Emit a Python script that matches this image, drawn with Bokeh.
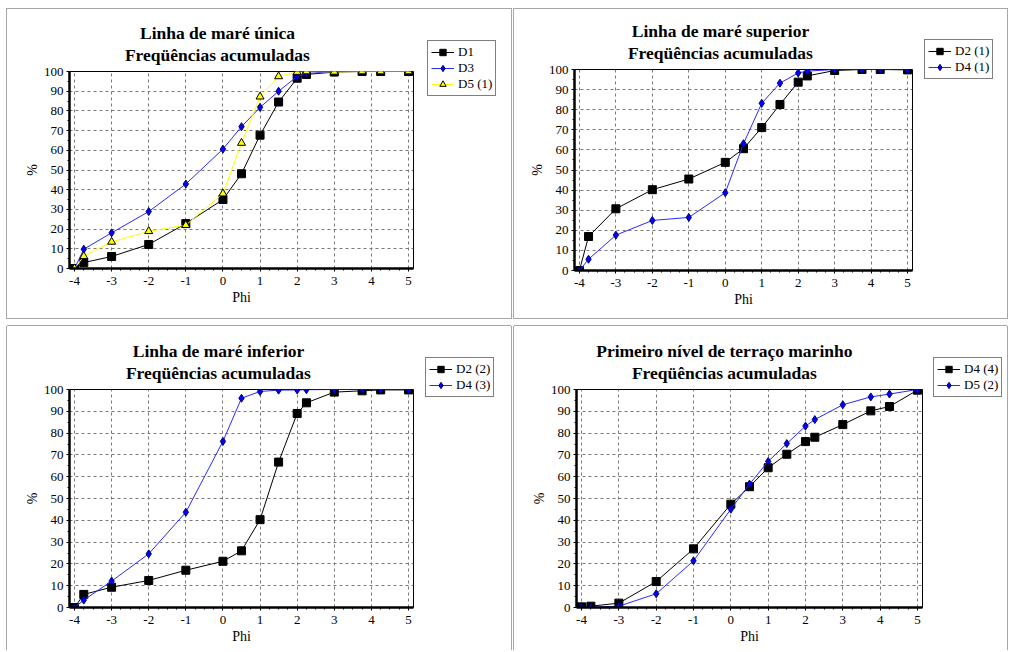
from bokeh.plotting import figure
from bokeh.models import Range1d, FixedTicker, Legend, LegendItem, Title, Spacer
from bokeh.layouts import row, column
from bokeh.embed import file_html
from bokeh.resources import INLINE

FONT = "Liberation Serif"

# ---- data ----
phi = [-4, -3.75, -3, -2, -1, 0, 0.5, 1, 1.5, 2, 2.25, 3, 3.75, 4.25, 5]
x_ticks = [-4, -3, -2, -1, 0, 1, 2, 3, 4, 5]
y_ticks = [0, 10, 20, 30, 40, 50, 60, 70, 80, 90, 100]

unica_D1 = [0, 3.0, 6.1, 12.2, 22.8, 35.0, 48.1, 67.7, 84.5, 96.6, 98.5, 99.7, 100, 100, 100]
unica_D3 = [0, 9.8, 18.1, 28.9, 42.9, 60.6, 72.0, 81.8, 90.0, 97.5, 99.0, 100, 100, 100, 100]
unica_D5_1 = [0, 6.2, 13.5, 18.9, 22.0, 38.0, 63.7, 87.2, 97.5, 99.7, 100, 99.8, 100, 100, 100]

sup_D2_1 = [0, 16.9, 30.7, 40.2, 45.5, 53.8, 60.6, 71.1, 82.6, 93.7, 96.8, 99.5, 100, 100, 99.8]
sup_D4_1 = [0, 5.6, 17.6, 24.9, 26.4, 38.7, 63.1, 83.2, 93.2, 98.3, 99.2, 100, 100, 100, 100]

inf_D2_2 = [0, 6.0, 9.3, 12.4, 17.1, 21.2, 26.0, 40.3, 66.7, 89.0, 93.9, 98.8, 99.4, 99.8, 99.8]
inf_D4_3 = [0, 3.4, 12.1, 24.6, 43.7, 76.2, 96.0, 99.1, 99.7, 99.8, 99.9, 100, 100, 100, 100]

ter_D4_4 = [0.3, 0.6, 2.0, 11.9, 26.9, 47.4, 55.4, 64.1, 70.3, 76.1, 78.1, 83.9, 90.2, 92.2, 99.7]
ter_D5_2 = [0, 0.1, 0.6, 6.3, 21.4, 45.1, 56.6, 67.0, 75.2, 83.2, 86.2, 93.0, 96.6, 97.9, 100]

titles = [
    ("Linha de maré única", "Freqüências acumuladas"),
    ("Linha de maré superior", "Freqüências acumuladas"),
    ("Linha de maré inferior", "Freqüências acumuladas"),
    ("Primeiro nível de terraço marinho", "Freqüências acumuladas"),
]

STY = {
    "black": dict(line="#000000", marker="square", size=8, fill="#000000", mline="#000000"),
    "blue": dict(line="#2a2aff", marker="diamond", size=8, fill="#0000ff", mline="#00007a"),
    "yellow": dict(line="#ffff00", marker="triangle", size=8, fill="#ffff00", mline="#000000"),
}

x_minor = [t + d for t in x_ticks[:-1] for d in (0.25, 0.5, 0.75)]
y_minor = [t + 5 for t in y_ticks[:-1]]

# Times/Liberation Serif Bold advance widths (per 1000 em) for estimating title width
BOLD_W = {" ": 250, "a": 500, "b": 556, "c": 444, "d": 556, "e": 444, "f": 333, "g": 500,
          "h": 556, "i": 278, "j": 333, "k": 556, "l": 278, "m": 833, "n": 556, "o": 500,
          "p": 556, "q": 556, "r": 444, "s": 389, "t": 333, "u": 556, "v": 500, "w": 722,
          "x": 500, "y": 500, "z": 444, "F": 611, "L": 667, "P": 611,
          "é": 444, "ú": 556, "ü": 556, "ê": 444, "í": 278, "ç": 444}
TITLE_PX = 17.5


def text_w(s, px):
    return sum(BOLD_W.get(ch, 500) for ch in s) * px / 1000.0


def make_panel(title, series, height, fl, ft, fb, frame_w, title_cx, leg_w, leg_left, leg_top, styles):
    fr = 7
    width = fl + frame_w + fr
    p = figure(width=width, height=height, output_backend="svg", toolbar_location=None,
               x_range=Range1d(-4.135, 5.135), y_range=Range1d(0, 100),
               min_border_left=fl, min_border_right=fr, min_border_top=ft, min_border_bottom=fb,
               x_axis_label="Phi", y_axis_label="%")
    p.background_fill_color = "white"
    p.border_fill_color = "white"
    p.outline_line_color = "black"
    p.outline_line_width = 1

    p.xaxis.ticker = FixedTicker(ticks=x_ticks, minor_ticks=x_minor)
    p.yaxis.ticker = FixedTicker(ticks=y_ticks, minor_ticks=y_minor)
    p.xaxis.major_label_overrides = {t: str(t) for t in x_ticks}
    for ax in (p.xaxis, p.yaxis):
        ax.axis_line_width = 2.5
        ax.axis_line_color = "black"
        ax.major_tick_line_color = "black"
        ax.minor_tick_line_color = "black"
        ax.major_tick_out = 3
        ax.major_tick_in = 0
        ax.minor_tick_out = 2
        ax.minor_tick_in = 0
        ax.major_label_text_font = FONT
        ax.major_label_text_font_size = "13px"
        ax.major_label_text_color = "black"
        ax.axis_label_text_font = FONT
        ax.axis_label_text_font_size = "14px"
        ax.axis_label_text_font_style = "normal"
        ax.axis_label_text_color = "black"
    p.xaxis.major_label_standoff = 5
    p.xaxis.axis_label_standoff = 2
    p.yaxis.major_label_standoff = 3
    p.yaxis.axis_label_standoff = 1

    for g in (p.xgrid, p.ygrid):
        g.grid_line_color = "#7a7a7a"
        g.grid_line_dash = "3 3"
        g.grid_line_width = 1

    n = len(series)
    leg_fig_h = 16 * n + 10
    # legend lives in its own small figure to the right (annotations in the frame get clipped);
    # its proxy renderers use the same data but a range that keeps them out of view
    lf = figure(width=leg_w, height=leg_fig_h, output_backend="svg", toolbar_location=None,
                x_axis_location=None, y_axis_location=None,
                x_range=Range1d(1000, 1001), y_range=Range1d(1000, 1001),
                min_border_left=leg_left, min_border_right=0, min_border_top=0,
                min_border_bottom=0)
    lf.outline_line_color = None
    lf.grid.visible = False
    lf.background_fill_color = "white"
    lf.border_fill_color = "white"

    items = []
    for name, vals, key in series:
        s = STY[key]
        p.line(phi, vals, line_color=s["line"], line_width=1)
        p.scatter(phi, vals, marker=s["marker"], size=s["size"],
                  fill_color=s["fill"], line_color=s["mline"], line_width=1)
        lr = lf.line(phi, vals, line_color=s["line"], line_width=1)
        sr = lf.scatter(phi, vals, marker=s["marker"], size=s["size"],
                        fill_color=s["fill"], line_color=s["mline"], line_width=1)
        items.append(LegendItem(label=name, renderers=[lr, sr]))

    legend = Legend(items=items, location="top_left")
    legend.border_line_color = "black"
    legend.border_line_width = 1
    legend.background_fill_color = "white"
    legend.background_fill_alpha = 1
    legend.label_text_font = FONT
    legend.label_text_font_size = "13px"
    legend.label_text_color = "black"
    legend.glyph_width = 23
    legend.glyph_height = 16
    legend.label_height = 16
    legend.label_standoff = 4
    legend.padding = 3
    legend.spacing = 0
    legend.margin = 0
    lf.add_layout(legend)

    # second line nearest to the frame, then first line above it
    for txt, so in ((title[1], 13), (title[0], -13)):
        off = title_cx - text_w(txt, TITLE_PX) / 2.0
        p.add_layout(Title(text=txt, align="left", offset=off, standoff=so,
                           text_font=FONT, text_font_size="%gpx" % TITLE_PX,
                           text_font_style="bold", text_color="black"), "above")
    side = column(Spacer(width=leg_w, height=leg_top), lf,
                  Spacer(width=leg_w, height=height - leg_top - leg_fig_h), spacing=0)
    return row(p, side, spacing=0, styles=styles)


top_style = {"outline": "1px solid #a6a6a6"}
bot_style = {"box-shadow": "-1px 0 0 0 #a6a6a6, 1px 0 0 0 #a6a6a6, 0 -1px 0 0 #a6a6a6"}

p1 = make_panel(titles[0], [("D1", unica_D1, "black"), ("D3", unica_D3, "blue"), ("D5 (1)", unica_D5_1, "yellow")],
                309, 62, 62, 50, 344, 148, 91, 7, 31, top_style)
p2 = make_panel(titles[1], [("D2 (1)", sup_D2_1, "black"), ("D4 (1)", sup_D4_1, "blue")],
                309, 60, 60, 48, 338, 146, 88, 5, 30, top_style)
p3 = make_panel(titles[2], [("D2 (2)", inf_D2_2, "black"), ("D4 (3)", inf_D4_3, "blue")],
                324, 62, 63, 43, 344, 149, 91, 5, 31, bot_style)
p4 = make_panel(titles[3], [("D4 (4)", ter_D4_4, "black"), ("D5 (2)", ter_D5_2, "blue")],
                324, 62, 63, 43, 346, 148, 78, 4, 31, bot_style)

layout = column(row(p1, p2, spacing=3), row(p3, p4, spacing=3), spacing=8, margin=(9, 0, 0, 7))

open("out.html", "w").write(file_html(layout, INLINE))
